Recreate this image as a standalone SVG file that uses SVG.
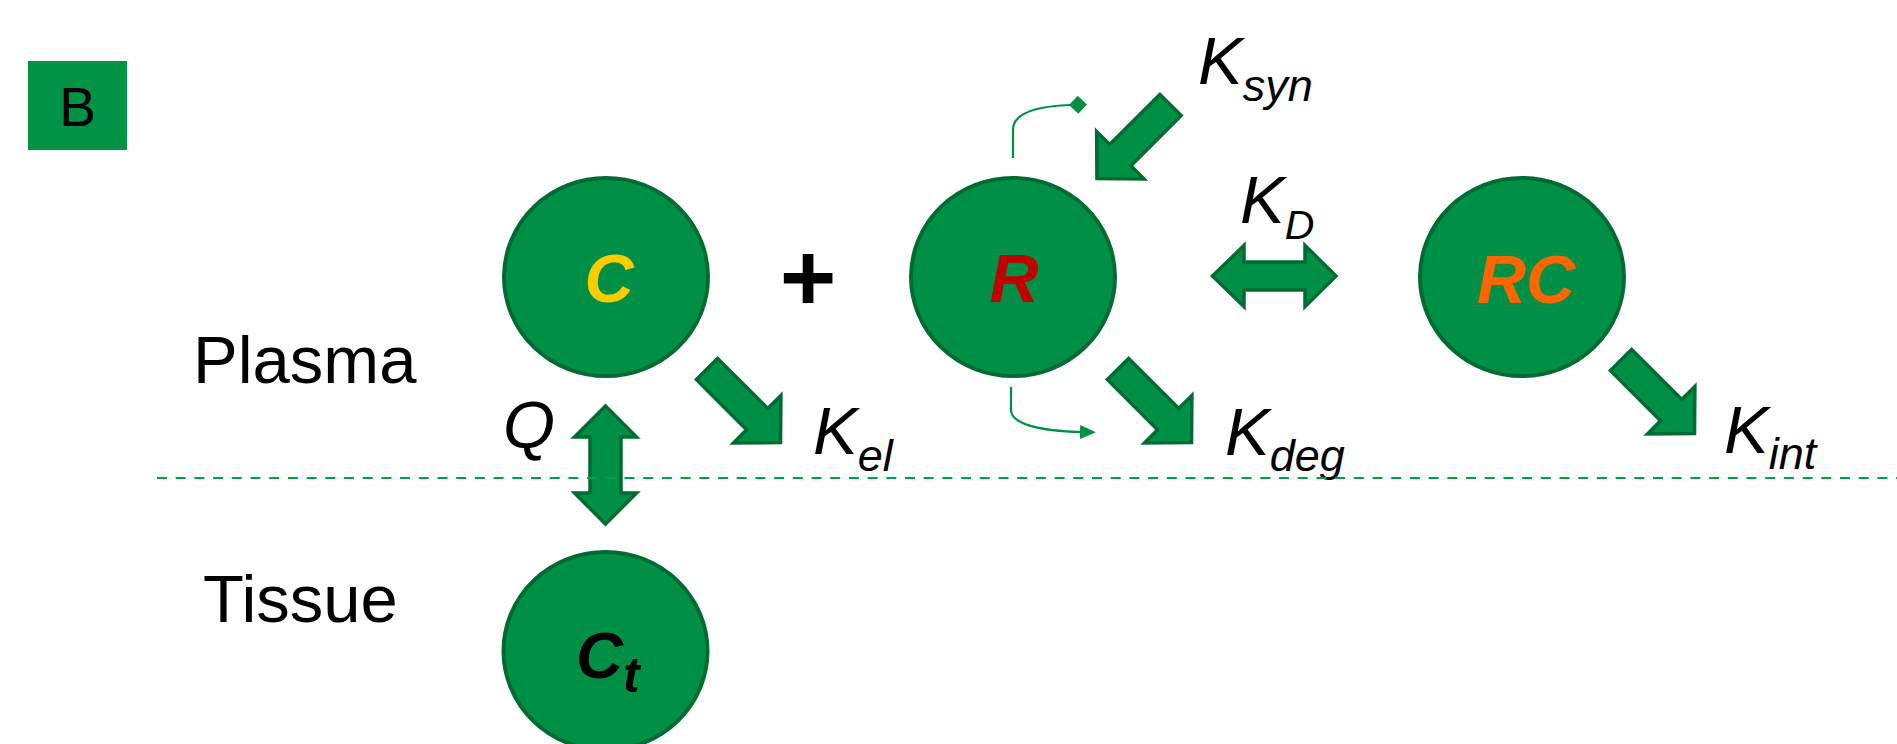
<svg xmlns="http://www.w3.org/2000/svg" width="1897" height="744" viewBox="0 0 1897 744">
<style>
.node{fill:#009045;stroke:#006B32;stroke-width:4}
.arr{fill:#009045;stroke:#006B32;stroke-width:3.5;stroke-linejoin:miter}
.lbl{font-family:"Liberation Sans",Arial,sans-serif;fill:#000}
.k{font-family:"Liberation Sans",Arial,sans-serif;font-style:italic;font-size:67px;fill:#000}
.sub{font-size:45px}
.ctr{font-family:"Liberation Sans",Arial,sans-serif;font-style:italic;font-weight:bold;font-size:68px;text-anchor:middle}
.thin{fill:none;stroke:#009045;stroke-width:2.2}
</style>
<defs>
<path id="sarrow" d="M0,-15 L71,-15 L71,-33.5 L104,0 L71,33.5 L71,15 L0,15 Z"/>
<marker id="tri" viewBox="0 0 16 14" refX="1" refY="7" markerWidth="16" markerHeight="14" markerUnits="userSpaceOnUse" orient="auto">
<path d="M0,0 L16,7 L0,14 Z" fill="#009045"/>
</marker>
<marker id="dia" viewBox="0 0 18 18" refX="2" refY="9" markerWidth="18" markerHeight="18" markerUnits="userSpaceOnUse" orient="auto">
<path d="M0,9 L9,0 L18,9 L9,18 Z" fill="#009045"/>
</marker>
</defs>

<g id="panel-label">
<rect x="28" y="61" width="99" height="89" fill="#009245"/>
<text class="lbl" x="77.5" y="126" font-size="55" text-anchor="middle">B</text>
</g>

<g id="compartment-labels">
<text class="lbl" x="193" y="383" font-size="67">Plasma</text>
<text class="lbl" x="203" y="622" font-size="67">Tissue</text>
</g>

<g id="node-C">
<ellipse class="node" cx="606" cy="277" rx="102" ry="99"/>
<text class="ctr" x="609" y="302" fill="#FFCC00">C</text>
</g>

<g id="plus">
<text class="lbl" x="808" y="311" font-size="97" font-weight="bold" text-anchor="middle">+</text>
</g>

<g id="node-R">
<ellipse class="node" cx="1013" cy="277" rx="102" ry="99"/>
<text class="ctr" x="1014" y="302" fill="#C00000">R</text>
</g>

<g id="node-RC">
<ellipse class="node" cx="1522" cy="277" rx="102" ry="99"/>
<text class="ctr" x="1526" y="303" fill="#FF6600">RC</text>
</g>

<g id="node-Ct">
<ellipse class="node" cx="605.5" cy="651" rx="102" ry="99"/>
<text x="576" y="678" font-family="'Liberation Sans',Arial,sans-serif" font-style="italic" font-weight="bold" font-size="65" fill="#000">C<tspan font-size="50" dy="14">t</tspan></text>
</g>

<g id="connectors">
<use href="#sarrow" class="arr" transform="translate(707,369) rotate(45)"/>
<use href="#sarrow" class="arr" transform="translate(1118,369) rotate(45)"/>
<use href="#sarrow" class="arr" transform="translate(1621,360) rotate(45)"/>
<use href="#sarrow" class="arr" transform="translate(1170.5,105) rotate(135)"/>
<path class="arr" d="M1212.5,276 L1244,245.5 L1244,262 L1305,262 L1305,245.5 L1336,276 L1305,306.5 L1305,290 L1244,290 L1244,306.5 Z"/>
<path class="arr" d="M605.5,406 L636.5,437 L621,437 L621,493 L636.5,493 L605.5,524 L574.5,493 L590,493 L590,437 L574.5,437 Z"/>
<path class="thin" d="M1013,158 L1013,130 C1013,112 1038,106 1071,105" marker-end="url(#dia)"/>
<path class="thin" d="M1011,387 L1011,410 C1011,424 1040,431 1081,432" marker-end="url(#tri)"/>
</g>

<g id="rate-labels">
<text class="k" x="813" y="454">K<tspan class="sub" dy="17">el</tspan></text>
<text class="k" x="1225" y="455">K<tspan class="sub" dy="16">deg</tspan></text>
<text class="k" x="1724" y="453">K<tspan class="sub" dy="16">int</tspan></text>
<text class="k" x="1198" y="84">K<tspan class="sub" dy="17">syn</tspan></text>
<text class="k" x="1240" y="223">K<tspan font-size="41" dy="16">D</tspan></text>
<text class="k" x="503" y="448" font-size="64">Q</text>
</g>

<g id="boundary">
<line x1="157" y1="478" x2="1897" y2="478" stroke="#00A04A" stroke-width="2.2" stroke-dasharray="10 8.7"/>
</g>
</svg>
